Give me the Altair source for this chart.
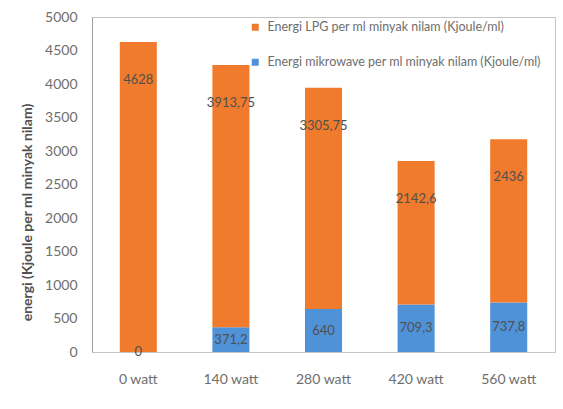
import altair as alt
import pandas as pd

# Power settings and energy per ml of patchouli oil
watts = ["0 watt", "140 watt", "280 watt", "420 watt", "560 watt"]
lpg_energy = [4628, 3913.75, 3305.75, 2142.6, 2436]
microwave_energy = [0, 371.2, 640, 709.3, 737.8]

lpg_name = "Energi LPG per ml minyak nilam (Kjoule/ml)"
mw_name = "Energi mikrowave per ml minyak nilam (Kjoule/ml)"

rows = []
for w, lpg, mw in zip(watts, lpg_energy, microwave_energy):
    rows.append({"watt": w, "series": mw_name, "value": mw, "ord": 0})
    rows.append({"watt": w, "series": lpg_name, "value": lpg, "ord": 1})
df = pd.DataFrame(rows)

FONT = "Lato"
LABEL_GREY = "#6e6e6e"

base = alt.Chart(df).transform_stack(
    stack="value", groupby=["watt"], as_=["y0", "y1"], sort=[alt.SortField("ord")]
).transform_calculate(
    mid="(datum.y0 + datum.y1) / 2",
    label="replace(toString(datum.value), '.', ',')",
)

x_enc = alt.X(
    "watt:N", sort=watts, title=None,
    scale=alt.Scale(paddingInner=0.6, paddingOuter=0.3),
    axis=alt.Axis(labelAngle=0, labelFontSize=14, labelColor=LABEL_GREY, labelFont=FONT,
                  ticks=False, domain=False, labelPadding=20),
)

y_scale = alt.Scale(domain=[0, 5000], nice=False)
y_axis = alt.Axis(values=list(range(0, 5001, 500)), format="d", labelOverlap=False,
                  grid=False, ticks=False,
                  domain=True, domainColor="#a0a0a0", labelFontSize=14,
                  labelColor=LABEL_GREY, labelFont=FONT, labelPadding=15,
                  titleFontSize=14, titleFont=FONT, titleColor="#505050",
                  titleFontWeight="bold", titleAngle=-90, titleX=-65, titleY=195,
                  titleAlign="center", titleBaseline="middle")
y_title = "energi (Kjoule per ml minyak nilam)"

bars = base.mark_bar().encode(
    x=x_enc,
    y=alt.Y("y0:Q", title=y_title, scale=y_scale, axis=y_axis),
    y2="y1:Q",
    color=alt.Color(
        "series:N",
        scale=alt.Scale(domain=[lpg_name, mw_name], range=["#F07B2C", "#4F92D8"]),
        legend=alt.Legend(title=None, orient="none", legendX=157, legendY=4,
                          symbolType="square", symbolSize=49, symbolStrokeWidth=0,
                          labelFontSize=12.5, labelColor=LABEL_GREY, labelFont=FONT,
                          labelOffset=6, labelLimit=0, rowPadding=22, padding=0),
    ),
    order=alt.Order("ord:Q"),
)

mw_text = base.transform_filter(alt.datum.ord == 0).mark_text(
    fontSize=13, color="#505050", font=FONT, baseline="middle"
).encode(
    x=alt.X("watt:N", sort=watts),
    y=alt.Y("mid:Q", title=y_title, scale=y_scale, axis=y_axis),
    text="label:N",
)

lpg_text = base.transform_filter(alt.datum.ord == 1).mark_text(
    fontSize=13, color="#505050", font=FONT, baseline="middle", dy=38
).encode(
    x=alt.X("watt:N", sort=watts),
    y=alt.Y("y1:Q", title=y_title, scale=y_scale, axis=y_axis),
    text="label:N",
)

chart = alt.layer(bars, mw_text, lpg_text).properties(
    width=463, height=335,
    padding={"left": 92, "top": 17, "right": 8, "bottom": 57},
    autosize=alt.AutoSizeParams(type="none"),
    background="white",
).configure_view(stroke="#c4c4c4", strokeWidth=1)

chart.save("out.html", embed_options={"renderer": "svg", "actions": False})
